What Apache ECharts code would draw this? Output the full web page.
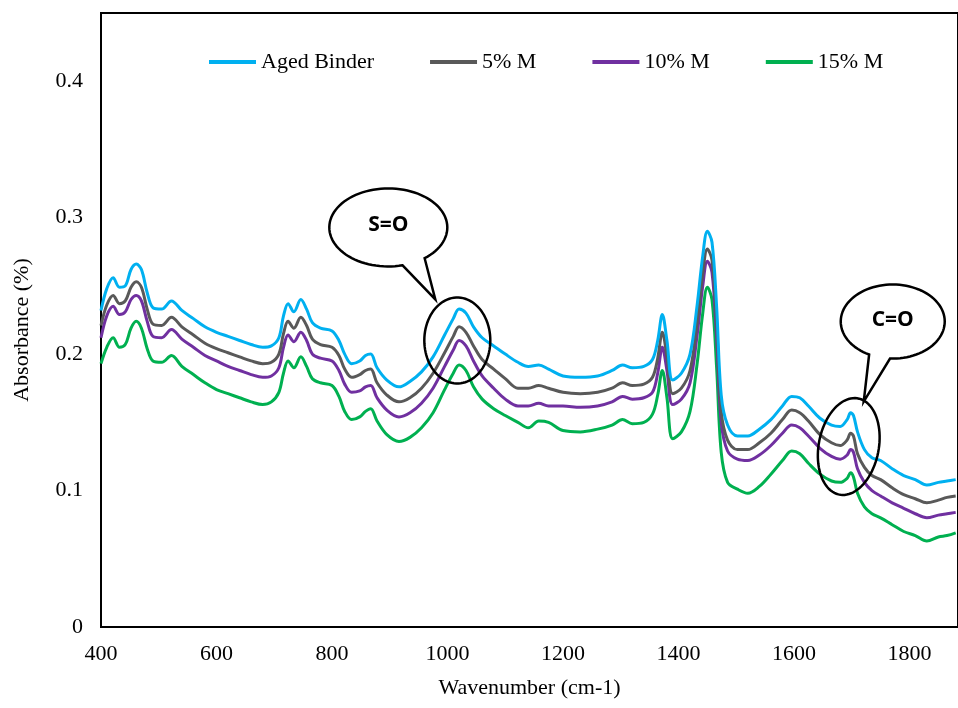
<!DOCTYPE html>
<html>
<head>
<meta charset="utf-8">
<script src="https://cdn.jsdelivr.net/npm/echarts@6/dist/echarts.min.js"></script>
<style>
html,body{margin:0;padding:0;background:#fff;}
#chart{width:958px;height:708px;}
</style>
</head>
<body>
<div id="chart"></div>
<script>
// Wavenumber (cm-1)
const wavenumber = [
  400,410,421,432,442,452,461,470,480,490,
  505,522,540,560,580,600,620,640,660,680,
  695,708,716,724,734,746,756,766,780,800,
  812,822,834,848,858,867,878,895,916,935,
  955,975,995,1010,1020,1032,1045,1060,1080,1100,
  1122,1140,1158,1175,1200,1230,1260,1285,1303,1320,
  1340,1355,1364,1372,1380,1390,1405,1420,1432,1442,
  1450,1458,1466,1474,1485,1502,1520,1540,1560,1580,
  1596,1610,1625,1645,1665,1680,1692,1698,1703,1710,
  1722,1735,1750,1770,1790,1810,1830,1850,1865,1880
];
const agedBinder = [
  0.232,0.248,0.256,0.249,0.250,0.262,0.266,0.262,0.245,0.234,
  0.233,0.239,0.232,0.226,0.220,0.216,0.213,0.210,0.207,0.205,
  0.206,0.212,0.228,0.237,0.231,0.240,0.233,0.223,0.219,0.217,
  0.210,0.200,0.193,0.195,0.199,0.200,0.190,0.181,0.176,0.180,
  0.187,0.198,0.214,0.226,0.233,0.230,0.220,0.212,0.206,0.200,
  0.194,0.191,0.192,0.189,0.184,0.183,0.184,0.188,0.192,0.190,
  0.191,0.196,0.210,0.229,0.210,0.181,0.186,0.200,0.235,0.272,
  0.290,0.282,0.235,0.170,0.148,0.140,0.140,0.145,0.152,0.162,
  0.169,0.168,0.162,0.153,0.148,0.147,0.152,0.157,0.155,0.143,
  0.130,0.124,0.122,0.116,0.111,0.108,0.104,0.106,0.107,0.108
];
const m5 = [
  0.221,0.236,0.243,0.237,0.239,0.249,0.253,0.249,0.233,0.222,
  0.221,0.227,0.220,0.214,0.208,0.204,0.201,0.198,0.195,0.193,
  0.194,0.200,0.215,0.224,0.219,0.227,0.221,0.211,0.207,0.205,
  0.199,0.189,0.183,0.185,0.188,0.189,0.179,0.170,0.165,0.168,
  0.175,0.186,0.201,0.213,0.220,0.216,0.206,0.196,0.189,0.182,
  0.175,0.175,0.177,0.175,0.172,0.171,0.172,0.175,0.179,0.177,
  0.178,0.183,0.197,0.216,0.198,0.171,0.175,0.188,0.222,0.259,
  0.277,0.269,0.222,0.158,0.137,0.130,0.130,0.135,0.142,0.152,
  0.159,0.157,0.151,0.141,0.135,0.133,0.137,0.142,0.140,0.127,
  0.117,0.111,0.108,0.102,0.097,0.094,0.091,0.093,0.095,0.096
];
const m10 = [
  0.212,0.228,0.235,0.229,0.231,0.240,0.243,0.239,0.224,0.213,
  0.212,0.218,0.211,0.205,0.199,0.195,0.191,0.188,0.185,0.183,
  0.184,0.190,0.205,0.214,0.209,0.216,0.210,0.200,0.197,0.195,
  0.188,0.178,0.172,0.173,0.176,0.177,0.168,0.159,0.154,0.157,
  0.164,0.175,0.191,0.203,0.210,0.206,0.195,0.184,0.175,0.167,
  0.162,0.162,0.164,0.162,0.162,0.161,0.162,0.165,0.169,0.167,
  0.168,0.172,0.186,0.205,0.188,0.163,0.167,0.179,0.213,0.250,
  0.268,0.260,0.212,0.150,0.129,0.123,0.122,0.126,0.133,0.142,
  0.148,0.146,0.140,0.131,0.125,0.123,0.126,0.130,0.128,0.116,
  0.106,0.100,0.096,0.091,0.087,0.083,0.080,0.082,0.083,0.084
];
const m15 = [
  0.193,0.205,0.212,0.205,0.207,0.219,0.224,0.219,0.204,0.195,
  0.194,0.199,0.191,0.185,0.179,0.174,0.171,0.168,0.165,0.163,
  0.165,0.172,0.186,0.195,0.190,0.198,0.191,0.182,0.179,0.177,
  0.169,0.158,0.152,0.154,0.158,0.160,0.151,0.141,0.136,0.139,
  0.146,0.157,0.174,0.186,0.192,0.188,0.176,0.167,0.160,0.155,
  0.150,0.146,0.151,0.150,0.144,0.143,0.145,0.148,0.152,0.149,
  0.150,0.156,0.170,0.188,0.168,0.138,0.143,0.158,0.192,0.230,
  0.249,0.240,0.190,0.128,0.106,0.101,0.098,0.103,0.112,0.122,
  0.129,0.127,0.120,0.112,0.107,0.106,0.109,0.113,0.110,0.098,
  0.088,0.083,0.080,0.075,0.070,0.067,0.063,0.066,0.067,0.069
];
const seriesNames = ['Aged Binder', '5% M', '10% M', '15% M'];
const seriesValues = [agedBinder, m5, m10, m15];
const seriesColors = ['#00B0F0', '#595959', '#7030A0', '#00B050'];
const annotations = [
  {label: 'S=O', at: [1017, 0.210]},
  {label: 'C=O', at: [1700, 0.133]}
];

const serif = "'Liberation Serif', 'Times New Roman', serif";
const chart = echarts.init(document.getElementById('chart'));

const option = {
  animation: false,
  backgroundColor: '#fff',
  grid: {
    left: 101, right: -4, top: 13, bottom: 81,
    show: true, borderColor: '#000', borderWidth: 2, containLabel: false
  },
  legend: {
    left: 204, top: 46,
    icon: 'rect', itemWidth: 47, itemHeight: 4, itemGap: 56,
    textStyle: {fontFamily: serif, fontSize: 22, color: '#000'},
    data: seriesNames
  },
  xAxis: {
    type: 'value', min: 400, max: 1884, interval: 200,
    name: 'Wavenumber (cm-1)', nameLocation: 'middle', nameGap: 50,
    nameTextStyle: {fontFamily: serif, fontSize: 22, color: '#000'},
    axisLine: {show: true, lineStyle: {color: '#000', width: 2}},
    axisTick: {show: false},
    splitLine: {show: false},
    axisLabel: {fontFamily: serif, fontSize: 22, color: '#000', margin: 16, showMaxLabel: false,
                formatter: v => String(v)}
  },
  yAxis: {
    type: 'value', min: 0, max: 0.45, interval: 0.1,
    name: 'Absorbance (%)', nameLocation: 'middle', nameGap: 68,
    nameTextStyle: {fontFamily: serif, fontSize: 22, color: '#000', padding: [0, 0, 0, -20]},
    axisLine: {show: true, lineStyle: {color: '#000', width: 2}},
    axisTick: {show: false},
    splitLine: {show: false},
    axisLabel: {fontFamily: serif, fontSize: 22, color: '#000', margin: 18, showMaxLabel: false}
  },
  series: seriesNames.map((name, i) => ({
    name: name,
    type: 'line',
    data: wavenumber.map((w, k) => [w, seriesValues[i][k]]),
    showSymbol: false,
    symbol: 'none',
    smooth: 0.35,
    color: seriesColors[i],
    lineStyle: {color: seriesColors[i], width: 3},
    z: 10 - i
  }))
};
chart.setOption(option);

function ellipsePoints(cx, cy, rx, ry, rotDeg, t0, t1, n) {
  const pts = [];
  const r = rotDeg * Math.PI / 180;
  for (let k = 0; k <= n; k++) {
    const t = (t0 + (t1 - t0) * k / n) * Math.PI / 180;
    const ex = rx * Math.cos(t), ey = ry * Math.sin(t);
    pts.push([cx + ex * Math.cos(r) - ey * Math.sin(r), cy + ex * Math.sin(r) + ey * Math.cos(r)]);
  }
  return pts;
}

// annotation geometry relative to the anchor data point (pixel offsets)
const shapes = [
  {ring: {dx: 0, dy: 0, rx: 33, ry: 43, rot: 0},
   bubble: {dx: -69, dy: -113, rx: 59, ry: 39, t0: 76, t1: 412, tip: [-22, -41]}},
  {ring: {dx: -3, dy: 1, rx: 30, ry: 49, rot: 11},
   bubble: {dx: 41, dy: -124, rx: 52, ry: 37, t0: 117, t1: 453, tip: [12, -44]}}
];

const graphics = [];
annotations.forEach((a, i) => {
  const p = chart.convertToPixel({xAxisIndex: 0, yAxisIndex: 0}, a.at);
  const s = shapes[i];
  graphics.push({
    type: 'polygon', z: 100,
    shape: {points: ellipsePoints(p[0] + s.ring.dx, p[1] + s.ring.dy, s.ring.rx, s.ring.ry, s.ring.rot, 0, 360, 90)},
    style: {fill: 'none', stroke: '#000', lineWidth: 2.5}
  });
  const b = s.bubble;
  const bc = [p[0] + b.dx, p[1] + b.dy];
  const pts = ellipsePoints(bc[0], bc[1], b.rx, b.ry, 0, b.t0, b.t1, 90);
  pts.push([p[0] + b.tip[0], p[1] + b.tip[1]]);
  graphics.push({
    type: 'polygon', z: 100,
    shape: {points: pts},
    style: {fill: '#fff', stroke: '#000', lineWidth: 2.5, lineJoin: 'miter'}
  });
  graphics.push({
    type: 'text', z: 101,
    x: bc[0], y: bc[1] - 2,
    style: {text: a.label, fill: '#000', font: "bold 21px 'Open Sans', 'Noto Sans', sans-serif",
            textAlign: 'center', textVerticalAlign: 'middle'}
  });
});
chart.setOption({graphic: graphics});
</script>
</body>
</html>
